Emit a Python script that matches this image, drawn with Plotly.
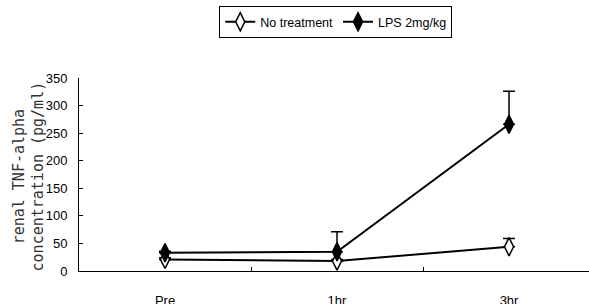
import plotly.graph_objects as go

categories = ["Pre", "1hr", "3hr"]
no_treatment = [21, 18, 44]
no_treatment_err = [3, 3, 15]
lps = [33, 35, 266]
lps_err = [3, 36, 60]
yticks = [0, 50, 100, 150, 200, 250, 300, 350]

font_main = "Liberation Sans, Arial, sans-serif"

fig = go.Figure()
fig.add_trace(go.Scatter(
    x=categories, y=no_treatment, name="No treatment", mode="lines+markers",
    line=dict(color="black", width=2),
    marker=dict(symbol="diamond-tall", size=13, color="white", line=dict(color="black", width=1.5)),
    error_y=dict(type="data", array=no_treatment_err, arrayminus=[0, 0, 0], symmetric=False,
                 color="black", thickness=1.5, width=6),
))
fig.add_trace(go.Scatter(
    x=categories, y=lps, name="LPS 2mg/kg", mode="lines+markers",
    line=dict(color="black", width=2),
    marker=dict(symbol="diamond-tall", size=13, color="black", line=dict(color="black", width=1.5)),
    error_y=dict(type="data", array=lps_err, arrayminus=[0, 0, 0], symmetric=False,
                 color="black", thickness=1.5, width=6),
))

fig.add_annotation(x="3hr", y=394, text="**", showarrow=False,
                   font=dict(family=font_main, size=13, color="black"))
fig.add_annotation(xref="paper", yref="paper", x=-0.098, y=0.49, xanchor="center", yanchor="middle",
                   text="renal TNF-alpha<br>concentration (pg/ml)", showarrow=False, textangle=-90,
                   font=dict(family="DejaVu Sans Mono", size=15, color="#333333"))

fig.update_layout(
    width=589, height=304,
    margin=dict(l=79, r=0, t=78, b=33),
    paper_bgcolor="white", plot_bgcolor="white",
    showlegend=True,
    legend=dict(orientation="h", x=0.275, y=1.372, xanchor="left", yanchor="top",
                bordercolor="black", borderwidth=1, bgcolor="white",
                font=dict(family=font_main, size=12.5, color="black"),
                itemwidth=30, tracegroupgap=0),
    font=dict(family=font_main, color="black"),
)
fig.update_xaxes(
    type="category", range=[-0.5, 2.465], showline=True, linecolor="black", linewidth=1,
    showgrid=False, zeroline=False, ticks="inside", tickson="boundaries", ticklen=4,
    tickcolor="black", ticklabelstandoff=17, automargin=False,
    tickfont=dict(family=font_main, size=13, color="black"),
)
fig.update_yaxes(
    range=[0, 350], tickvals=yticks, showline=True, linecolor="black", linewidth=1,
    showgrid=False, zeroline=False, ticks="inside", ticklen=4, tickcolor="black",
    ticklabelstandoff=8, automargin=False,
    tickfont=dict(family=font_main, size=13, color="black"),
)

fig.write_html("out.html", config={"displayModeBar": False},
               post_script="document.body.style.margin='0px';")
